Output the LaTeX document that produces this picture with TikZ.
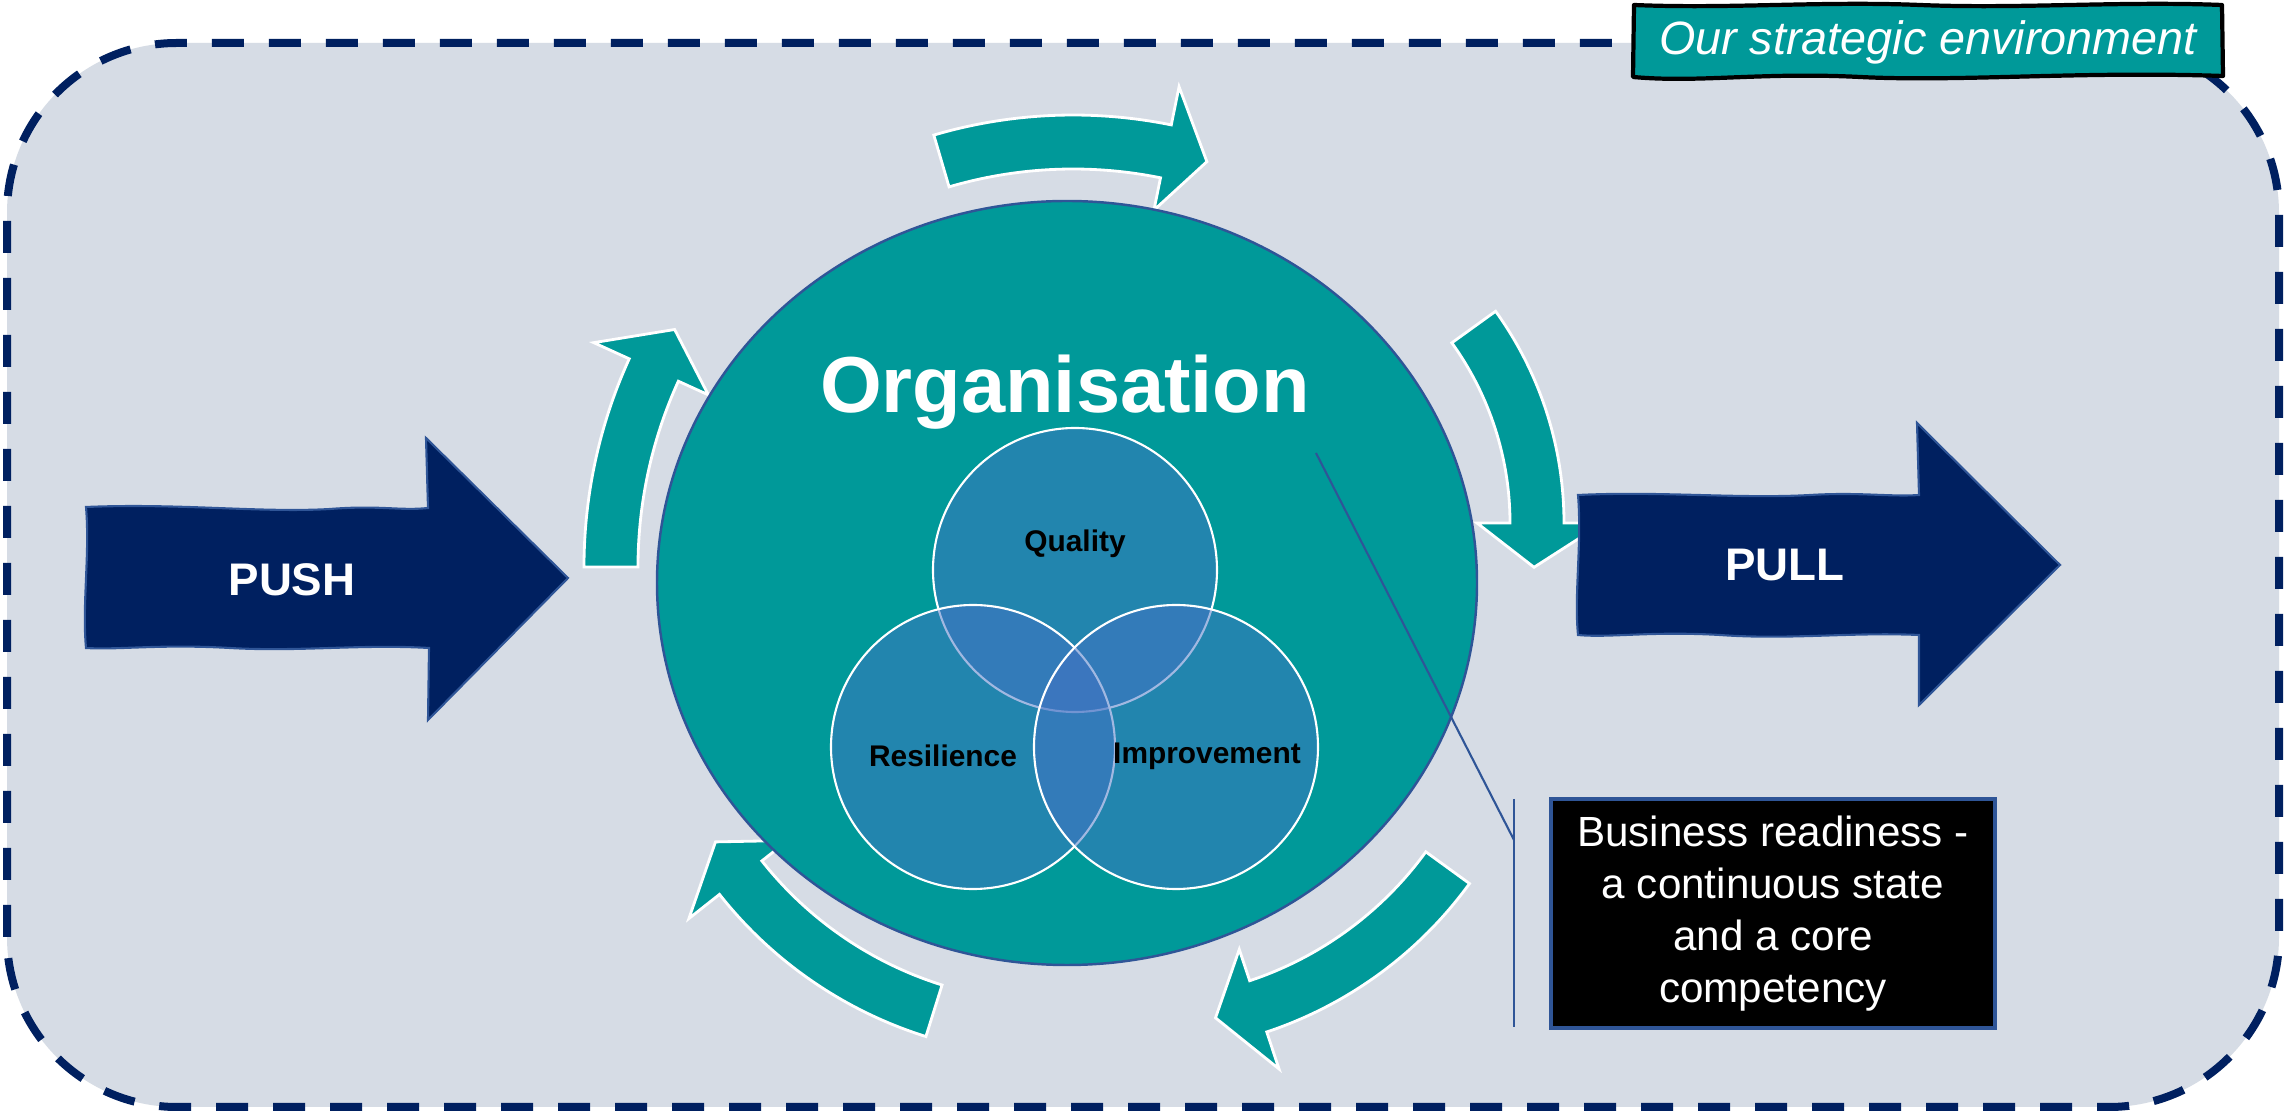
\documentclass[tikz,border=0pt]{standalone}
\usepackage{fontspec}
\setmainfont{Liberation Sans}
\usetikzlibrary{calc}

\definecolor{envfill}{HTML}{D6DCE5}
\definecolor{navy}{HTML}{002060}
\definecolor{tealbox}{HTML}{009999}
\definecolor{vennblue}{HTML}{4472C4}
\definecolor{edgeblue}{HTML}{2F5597}

\tikzset{
  loopseg/.style={fill=tealbox, draw=white, line width=0.8pt, line join=miter},
  bigarrow/.style={fill=navy, draw=edgeblue, line width=0.6pt},
  arrowtext/.style={text=white, font=\fontsize{13pt}{15pt}\selectfont\bfseries},
  venn/.style={circle, inner sep=0pt, minimum size=2.84cm, fill=vennblue, fill opacity=0.5, draw=white, line width=0.6pt},
  vennlabel/.style={anchor=base, font=\fontsize{8.5pt}{10pt}\selectfont\bfseries},
}

% curved block arrow: centre, inner r, outer r, start angle, end angle, tip angle
\newcommand{\cyclearrow}[6]{%
  \filldraw[loopseg] ($(#1)+(#4:#3)$) arc[start angle=#4, end angle=#5, radius=#3]
    -- ($(#1)+(#5:{#3+0.39})$) -- ($(#1)+(#6:{(#2+#3)/2})$)
    -- ($(#1)+(#5:{#2-0.33})$) -- ($(#1)+(#5:#2)$)
    arc[start angle=#5, end angle=#4, radius=#2] -- cycle;}

\begin{document}
\begin{tikzpicture}
\useasboundingbox (0,0) rectangle (22.88,11.14);
\fill[white] (0,0) rectangle (22.88,11.14);

\filldraw[fill=envfill, draw=navy, line width=0.08cm, dash pattern=on 0.32cm off 0.25cm, rounded corners=1.7cm]
  (0.07,0.07) rectangle (22.79,10.71);

% the loop round the organisation
\coordinate (cL) at (10.86,5.47);
\coordinate (cT) at (10.73,5.06);
\coordinate (cR) at (12.02,5.91);
\coordinate (cBR) at (11.37,4.72);
\coordinate (cBL) at (10.53,4.83);
\cyclearrow{cL}{4.48}{5.02}{180}{155.5}{150}
\cyclearrow{cT}{4.39}{4.93}{106.4}{78.5}{73.3}
\cyclearrow{cR}{3.08}{3.62}{35.8}{0}{-7.6}
\cyclearrow{cBR}{3.57}{4.11}{-36}{-71.6}{-78.2}
\cyclearrow{cBL}{3.71}{4.25}{-107.4}{-141.7}{-148}

\filldraw[fill=tealbox, draw=edgeblue, line width=0.7pt] (10.67,5.31) ellipse [x radius=4.10, y radius=3.82];
\node[anchor=base, text=white, font=\fontsize{22.6pt}{27pt}\selectfont\bfseries] (org) at (10.65,7.01) {Organisation};

% push and pull
\filldraw[bigarrow] (0.86,6.07) .. controls (1.8,6.11) and (2.6,6.01) .. (3.3,6.05)
  .. controls (3.8,6.09) and (4.0,6.03) .. (4.28,6.06) -- (4.26,6.76) -- (5.68,5.36) -- (4.28,3.94) -- (4.29,4.66)
  .. controls (3.6,4.70) and (3.0,4.62) .. (2.3,4.66) .. controls (1.6,4.70) and (1.2,4.64) .. (0.86,4.66)
  .. controls (0.82,5.1) and (0.90,5.6) .. (0.86,6.07) -- cycle;
\node[arrowtext] (push) at (2.92,5.34) {PUSH};
\filldraw[bigarrow] (15.78,6.19) .. controls (16.6,6.23) and (17.4,6.15) .. (18.1,6.19)
  .. controls (18.6,6.22) and (18.9,6.17) .. (19.19,6.19) -- (19.17,6.91) -- (20.60,5.49) -- (19.19,4.09) -- (19.19,4.79)
  .. controls (18.5,4.82) and (17.9,4.74) .. (17.2,4.79) .. controls (16.5,4.83) and (16.1,4.76) .. (15.78,4.79)
  .. controls (15.74,5.2) and (15.82,5.7) .. (15.78,6.19) -- cycle;
\node[arrowtext] (pull) at (17.85,5.49) {PULL};

\node[venn] (quality) at (10.75,5.44) {};
\node[venn] (resilience) at (9.73,3.67) {};
\node[venn] (improvement) at (11.76,3.67) {};
\node[vennlabel] (qtext) at (10.75,5.62) {Quality};
\node[vennlabel] (rtext) at (9.43,3.47) {Resilience};
\node[vennlabel] (itext) at (12.07,3.50) {Improvement};

\coordinate (calloutstart) at (13.16,6.61);
\coordinate (calloutknee) at (15.14,2.74);
\coordinate (bartop) at (15.14,3.15);
\coordinate (barbottom) at (15.14,0.87);
\draw[edgeblue, line width=0.6pt] (calloutstart) -- (calloutknee);
\draw[edgeblue, line width=0.6pt] (bartop) -- (barbottom);
\node[fill=black, draw=edgeblue, line width=1pt, minimum width=4.44cm, minimum height=2.29cm,
  text=white, align=center, font=\fontsize{12pt}{14.8pt}\selectfont] (readiness) at (17.73,2.005)
  {Business readiness -\\a continuous state\\and a core\\competency};

\filldraw[fill=tealbox, draw=black, line width=1.2pt, line join=round]
  (16.33,10.37) .. controls (17.0,10.31) and (17.6,10.42) .. (18.6,10.37)
  .. controls (19.6,10.32) and (20.8,10.43) .. (22.23,10.38) -- (22.22,11.09)
  .. controls (21.2,11.13) and (20.2,11.05) .. (19.2,11.09)
  .. controls (18.2,11.13) and (17.3,11.05) .. (16.34,11.09) -- cycle;
\node[anchor=base, text=white, font=\fontsize{13.3pt}{16pt}\selectfont\itshape] (envlabel) at (19.28,10.59) {Our strategic environment};
\end{tikzpicture}
\end{document}
